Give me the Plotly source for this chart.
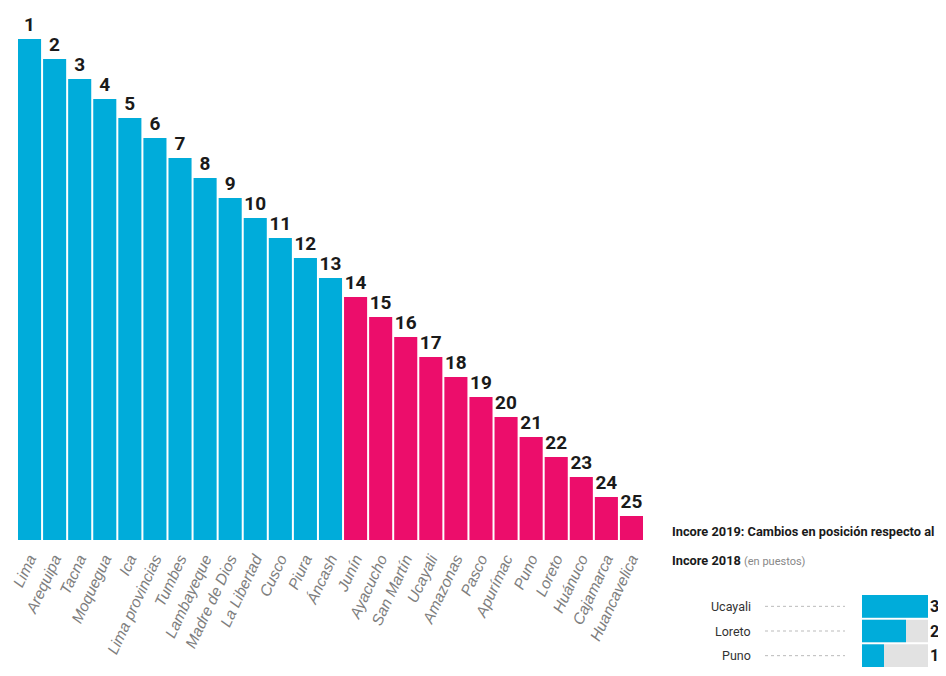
import plotly.graph_objects as go

# ---- data ----
regions = ["Lima", "Arequipa", "Tacna", "Moquegua", "Ica", "Lima provincias",
           "Tumbes", "Lambayeque", "Madre de Dios", "La Libertad", "Cusco",
           "Piura", "Áncash", "Junín", "Ayacucho", "San Martín", "Ucayali",
           "Amazonas", "Pasco", "Apurímac", "Puno", "Loreto", "Huánuco",
           "Cajamarca", "Huancavelica"]
ranks = [1, 2, 3, 4, 5, 6, 7, 8, 9, 10, 11, 12, 13,
         14, 15, 16, 17, 18, 19, 20, 21, 22, 23, 24, 25]
scores = [25.05, 24.05, 23.05, 22.05, 21.1, 20.1, 19.1, 18.1, 17.1, 16.1,
          15.1, 14.1, 13.1, 12.15, 11.15, 10.15, 9.15, 8.15, 7.15, 6.15,
          5.15, 4.15, 3.15, 2.15, 1.2]
groups = ["alto"] * 13 + ["bajo"] * 12

inset_title_1 = "Incore 2019: Cambios en posición respecto al"
inset_title_2 = "Incore 2018"
inset_unit = "(en puestos)"
inset_regions = ["Ucayali", "Loreto", "Puno"]
inset_changes = [3, 2, 1]
inset_max = 3

# ---- styles ----
BLUE = "#00ACDA"
PINK = "#EC0D6B"
GRAY_BG = "#E2E2E2"
BOLD_FONT = "Roboto, Lato, sans-serif"
group_colors = {"alto": BLUE, "bajo": PINK}

# page body has an 8px margin: map reference pixel coords into the figure
OFF = 8
W, H = 946 - 2 * OFF, 676 - 2 * OFF


def px(x):
    return (x - OFF) / W


def py(y):
    return 1 - (y - OFF) / H


fig = go.Figure()

fig.add_trace(go.Bar(
    x=regions, y=scores,
    marker=dict(color=[group_colors[g] for g in groups], line=dict(width=0)),
    text=[str(r) for r in ranks],
    textposition="outside",
    textfont=dict(family=BOLD_FONT, size=19, color="#1a1a1a", weight="bold"),
    cliponaxis=False,
    xaxis="x", yaxis="y",
    hoverinfo="skip",
))

# inset: background bars
fig.add_trace(go.Bar(
    y=inset_regions, x=[inset_max] * len(inset_regions), orientation="h",
    marker=dict(color=GRAY_BG, line=dict(width=0)),
    xaxis="x2", yaxis="y2", hoverinfo="skip",
))
fig.add_trace(go.Bar(
    y=inset_regions, x=inset_changes, orientation="h",
    marker=dict(color=BLUE, line=dict(width=0)),
    xaxis="x2", yaxis="y2", hoverinfo="skip",
))

annotations = []
shapes = []
for name, val in zip(inset_regions, inset_changes):
    annotations.append(dict(
        x=px(753), xref="paper", y=name, yref="y2",
        text=name, showarrow=False, xanchor="right", yanchor="middle",
        font=dict(family=BOLD_FONT, size=12.5, color="#333333"),
    ))
    annotations.append(dict(
        x=inset_max, xref="x2", y=name, yref="y2",
        text=str(val), showarrow=False, xanchor="left", yanchor="middle",
        xshift=0,
        font=dict(family=BOLD_FONT, size=16, color="#1a1a1a", weight="bold"),
    ))
    shapes.append(dict(
        type="line", xref="paper", yref="y2",
        x0=px(765), x1=px(845), y0=name, y1=name,
        line=dict(color="#BBBBBB", width=1, dash="dot"),
    ))

annotations.append(dict(
    x=px(670), xref="paper", y=py(522), yref="paper",
    xanchor="left", yanchor="top", align="left", showarrow=False,
    text=inset_title_1,
    font=dict(family=BOLD_FONT, size=12.8, color="#1a1a1a", weight="bold"),
))
annotations.append(dict(
    x=px(670), xref="paper", y=py(551), yref="paper",
    xanchor="left", yanchor="top", align="left", showarrow=False,
    text=(inset_title_2 + " <span style='font-weight:normal;color:#888888;"
          "font-size:11px'>" + inset_unit + "</span>"),
    font=dict(family=BOLD_FONT, size=12.8, color="#1a1a1a", weight="bold"),
))

fig.update_layout(
    width=W, height=H,
    margin=dict(l=0, r=0, t=0, b=0),
    paper_bgcolor="white", plot_bgcolor="white",
    showlegend=False,
    bargap=0.08,
    barmode="overlay",
    xaxis=dict(
        domain=[px(17), px(644)], range=[-0.5, 24.5],
        showgrid=False, zeroline=False, showline=False, ticks="",
        tickangle=-65, automargin=False, ticklabelstandoff=6,
        tickfont=dict(family="Liberation Sans, Arial, sans-serif", size=15.5,
                      color="#7E7E7E", style="italic"),
    ),
    yaxis=dict(
        domain=[py(540), 1], range=[0, 27 - OFF / 20],
        showgrid=False, zeroline=False, showline=False,
        showticklabels=False, ticks="", automargin=False,
    ),
    xaxis2=dict(
        domain=[px(862), px(928)], range=[0, inset_max], anchor="y2",
        showgrid=False, zeroline=False, showline=False,
        showticklabels=False, ticks="", automargin=False,
    ),
    yaxis2=dict(
        domain=[0, py(594)], range=[2.5, -0.5], anchor="x2",
        type="category",
        showgrid=False, zeroline=False, showline=False,
        showticklabels=False, ticks="", automargin=False,
    ),
    annotations=annotations,
    shapes=shapes,
)

fig.write_html("out.html")
